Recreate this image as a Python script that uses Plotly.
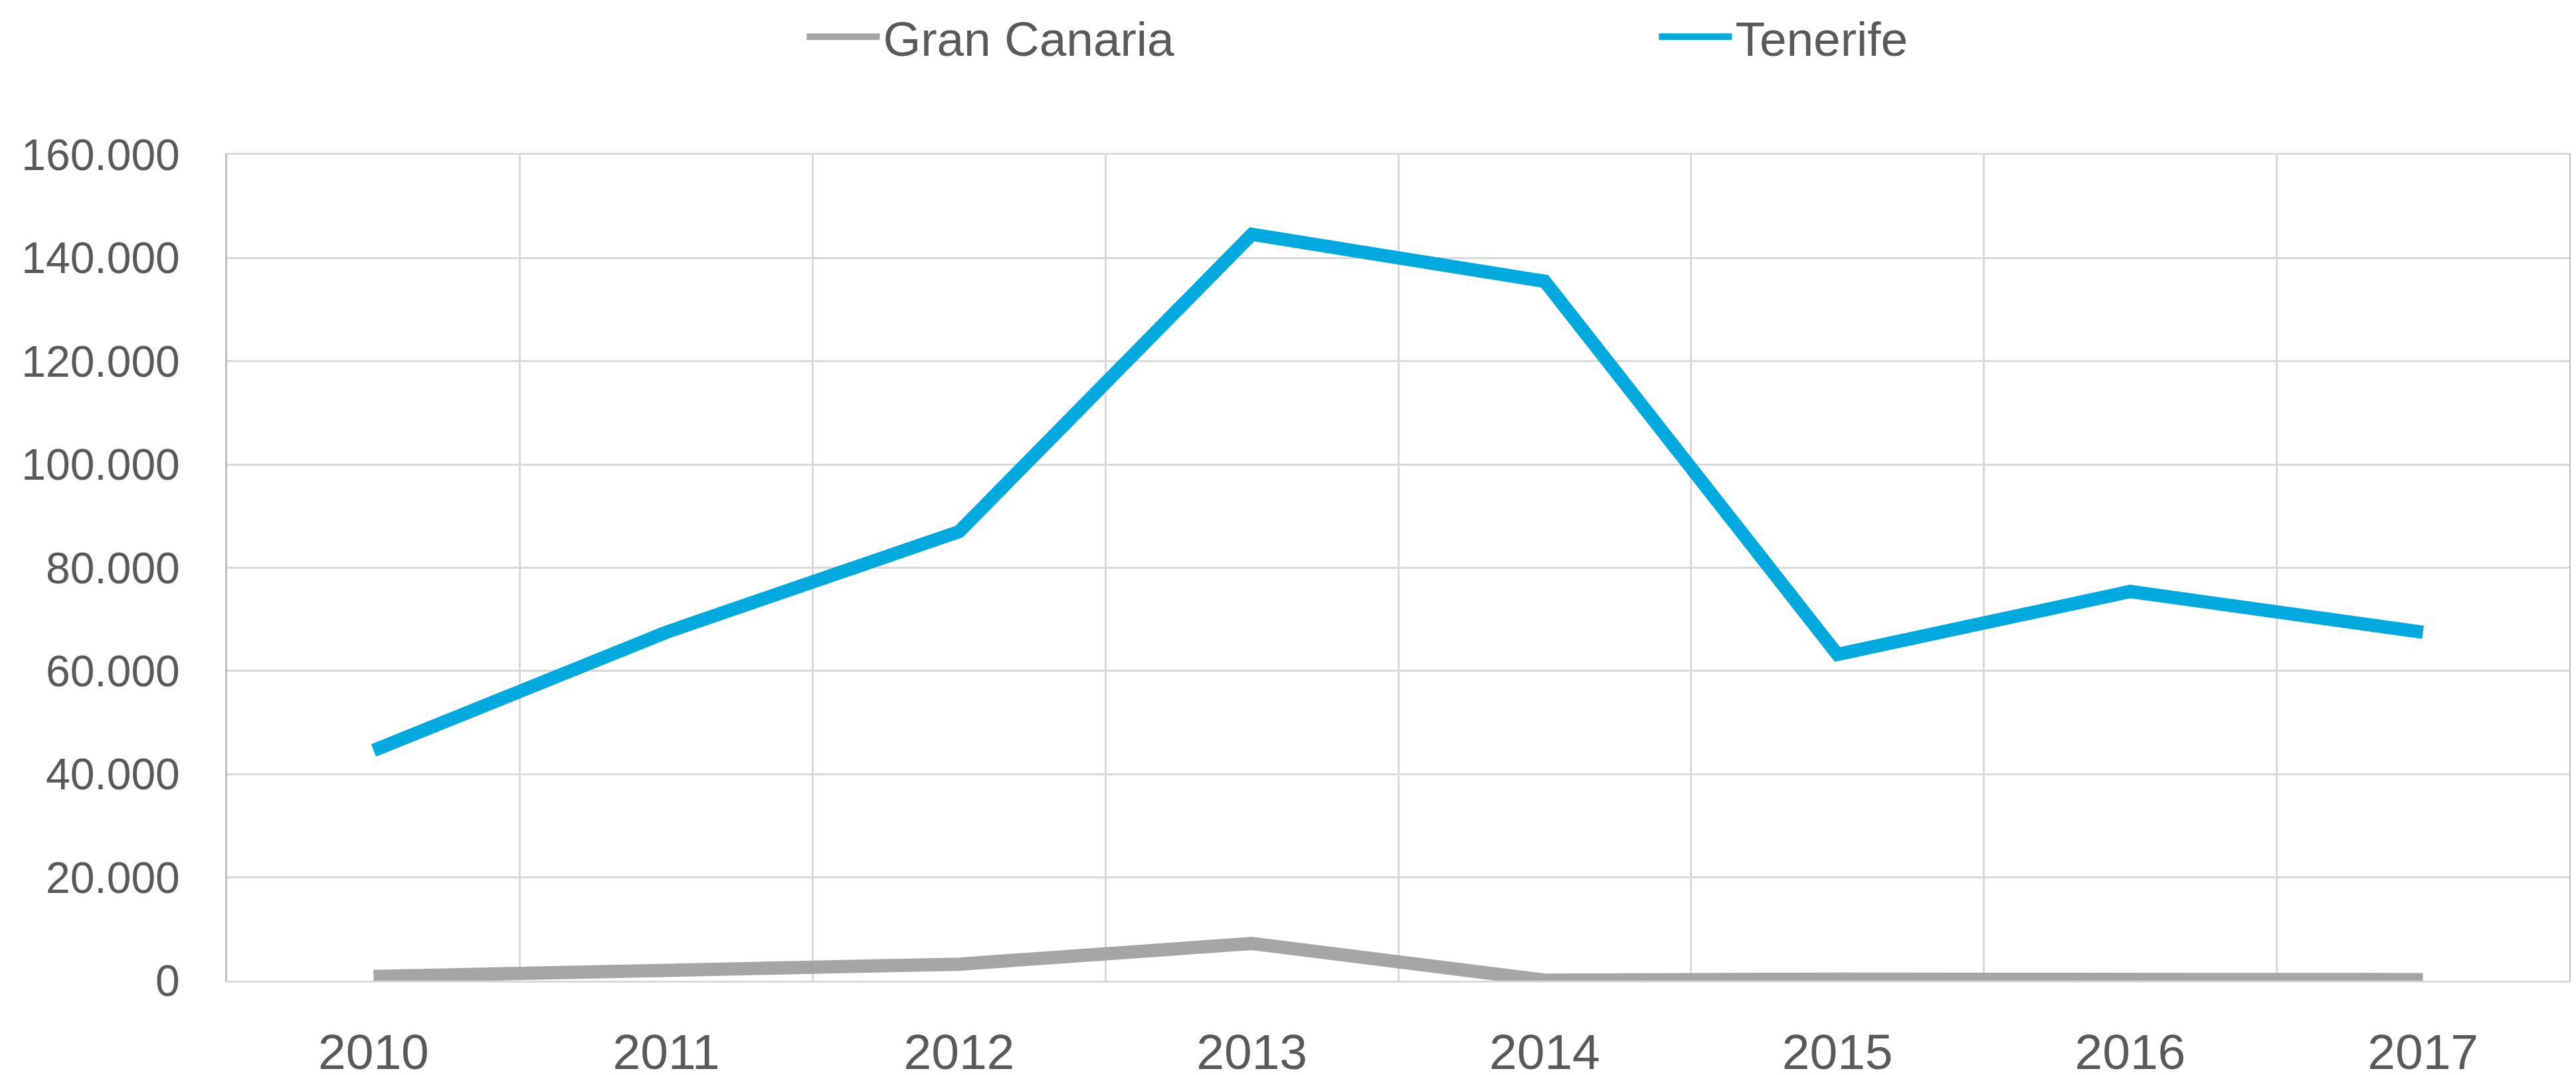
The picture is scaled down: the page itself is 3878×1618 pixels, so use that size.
import plotly.graph_objects as go

years = ["2010", "2011", "2012", "2013", "2014", "2015", "2016", "2017"]
gran_canaria = [800, 1800, 3200, 7200, 100, 300, 300, 200]
tenerife = [44600, 67500, 87000, 144600, 135500, 63200, 75400, 67500]
y_ticks = [0, 20000, 40000, 60000, 80000, 100000, 120000, 140000, 160000]

W, H = 3878, 1618
fig = go.Figure()
fig.add_trace(go.Scatter(x=years, y=gran_canaria, name="Gran Canaria", mode="lines",
                         line=dict(color="#A5A5A5", width=20)))
fig.add_trace(go.Scatter(x=years, y=tenerife, name="Tenerife", mode="lines",
                         line=dict(color="#00A9DE", width=20)))

font_family = "Liberation Sans, Arial, sans-serif"
fig.update_layout(
    width=W, height=H,
    paper_bgcolor="white", plot_bgcolor="white",
    separators=",.",
    margin=dict(l=334, r=18, t=225, b=150, autoexpand=False),
    font=dict(family=font_family, color="#595959", size=66),
    showlegend=True,
    legend=dict(orientation="h", x=0.246, xanchor="left", y=1.143, yanchor="middle",
                font=dict(size=73, color="#595959"), itemwidth=110,
                entrywidth=1158, entrywidthmode="pixels", bgcolor="rgba(0,0,0,0)"),
)
fig.update_xaxes(type="category", range=[-0.5, 7.5], tickson="boundaries",
                 showgrid=True, gridcolor="#D9D9D9", gridwidth=3,
                 showline=True, linecolor="#D9D9D9", linewidth=3, mirror=True,
                 ticks="", tickfont=dict(size=75, color="#595959"), ticklabelstandoff=40)
fig.update_yaxes(range=[0, 160000], tickvals=y_ticks, tickformat=",d",
                 showgrid=True, gridcolor="#D9D9D9", gridwidth=3,
                 showline=True, linecolor="#BFBFBF", linewidth=3, mirror=True,
                 zeroline=False, ticks="", tickfont=dict(size=66, color="#595959"),
                 ticklabelstandoff=55)
fig.write_html("out.html")
